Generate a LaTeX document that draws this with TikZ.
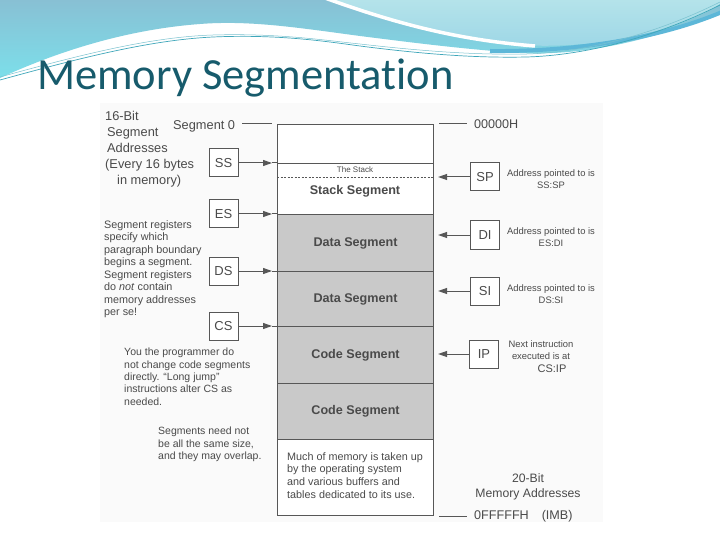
\documentclass[tikz,border=0pt]{standalone}
\usepackage{fontspec}
\setmainfont{Liberation Sans}
\newfontfamily\titlefont[Ligatures={NoCommon}]{Carlito}
\usetikzlibrary{arrows.meta}
\definecolor{ink}{HTML}{4A4A4A}
\definecolor{edge}{HTML}{575757}
\definecolor{segfill}{HTML}{C9C9C9}
\definecolor{titlecol}{HTML}{175B6C}
\definecolor{bluetop}{HTML}{88C0D4}
\definecolor{bluelow}{HTML}{7CDFEA}
\definecolor{cyantop}{HTML}{B4E3EA}
\definecolor{cyanlow}{HTML}{9CD6E6}
\definecolor{bandblue}{HTML}{5DB7D8}
\definecolor{thinline}{HTML}{3FA7BA}
\definecolor{panel}{HTML}{FAFAFA}
\tikzset{
  seg/.style={draw=edge, line width=1.1pt, minimum width=156pt, inner sep=0pt, anchor=north west,
    font=\bfseries\fontsize{12.6}{14}\selectfont, text=ink},
  reg/.style={draw=edge, line width=1pt, minimum width=29pt, minimum height=28pt, inner sep=0pt,
    font=\fontsize{13}{14}\selectfont, text=ink, fill=white},
  note/.style={inner sep=0pt, text=ink},
  arr/.style={draw=edge, line width=1pt, -{Triangle[length=9pt,width=6pt]}},
  tick/.style={draw=edge, line width=1pt}
}
\begin{document}
\begin{tikzpicture}[x=1pt,y=-1pt]
\useasboundingbox (0,0) rectangle (720,540);
\fill[white] (0,0) rectangle (720,540);
% top decoration
\shade[top color=bluetop, bottom color=bluelow]
  (0,0) -- (720,0) -- (720,12) .. controls (650,42) and (580,56) .. (520,53)
  .. controls (460,49) and (400,41) .. (360,36) .. controls (300,28) and (250,20) .. (200,24)
  .. controls (120,30) and (50,55) .. (0,78) -- cycle;
\shade[top color=cyantop, bottom color=cyanlow]
  (330,0) .. controls (400,25) and (460,40) .. (520,45) .. controls (600,50) and (680,30) .. (720,4) -- (720,0) -- cycle;
\draw[white, line width=3.5pt] (325,-2) .. controls (400,25) and (460,40) .. (535,46);
\draw[bandblue, line width=4pt] (490,51) .. controls (590,52) and (670,34) .. (722,12);
\draw[thinline, line width=0.7pt] (0,80) .. controls (80,58) and (150,40) .. (213,37)
  .. controls (280,34) and (330,42) .. (360,46) .. controls (430,55) and (480,58) .. (527,57)
  .. controls (590,55) and (660,35) .. (720,5);
\draw[thinline!70, line width=0.5pt] (0,77) .. controls (80,55) and (150,37) .. (213,35)
  .. controls (280,33) and (330,41) .. (360,44) .. controls (430,52) and (480,55) .. (527,54)
  .. controls (590,52) and (660,32) .. (720,2);
% title
\node[anchor=base west, inner sep=0pt, font=\titlefont\fontsize{44.5}{44}\selectfont, text=titlecol] (title) at (37,90) {Memory Segmentation};
% panel
\fill[panel] (100,103) rectangle (603,522);
% memory column
\node[seg, minimum height=39pt, fill=white] (top) at (277,124) {};
\node[seg, minimum height=51pt, fill=white] (stack) at (277,163) {};
\node[seg, minimum height=57pt, fill=segfill] (data1) at (277,214) {Data Segment};
\node[seg, minimum height=55pt, fill=segfill] (data2) at (277,271) {Data Segment};
\node[seg, minimum height=57pt, fill=segfill] (code1) at (277,326) {Code Segment};
\node[seg, minimum height=56pt, fill=segfill] (code2) at (277,383) {Code Segment};
\node[seg, minimum height=76pt, fill=white] (os) at (277,439) {};
\draw[edge, line width=0.8pt, dash pattern=on 2pt off 1.5pt] ([yshift=-14pt]stack.north west) -- ([yshift=-14pt]stack.north east);
\node[note, font=\fontsize{8}{9}\selectfont] (thestack) at (355,170) {The Stack};
\node[note, font=\bfseries\fontsize{12.6}{14}\selectfont] (stacklbl) at (355,191) {Stack Segment};
\node[note, anchor=north west, align=left, font=\fontsize{10.8}{12.7}\selectfont] (osnote) at (287,452)
  {Much of memory is taken up\\by the operating system\\and various buffers and\\tables dedicated to its use.};
% address marks
\node[note, anchor=base west, font=\fontsize{12.8}{14}\selectfont] (seg0) at (173,129.5) {Segment 0};
\draw[tick] ([xshift=7pt]seg0.east |- top.north west) -- ([xshift=-5pt]top.north west);
\node[note, anchor=base west, font=\fontsize{12.6}{14}\selectfont] (addr0) at (474,129) {00000H};
\draw[tick] ([xshift=5pt]top.north east) -- ([xshift=-7pt]addr0.west |- top.north east);
\node[note, anchor=base west, font=\fontsize{12.6}{14}\selectfont] (addrF) at (474,519.5) {0FFFFFH\hspace{13pt}(IMB)};
\draw[tick] ([xshift=5pt]os.south east) -- ([xshift=-7pt]addrF.west |- os.south east);
\node[note, align=center, font=\fontsize{12.2}{14.5}\selectfont] (bits20) at (528,487) {20-Bit\\Memory Addresses};
% left registers
\node[reg] (SS) at (223.5,163) {SS};
\node[reg] (ES) at (223.5,214) {ES};
\node[reg] (DS) at (223.5,271) {DS};
\node[reg] (CS) at (223.5,326) {CS};
\foreach \r/\s in {SS/stack, ES/data1, DS/data2, CS/code1} {
  \draw[arr] (\r.east) -- ([xshift=-5pt]\s.north west);
  \draw[tick] ([xshift=-5pt]\s.north west) -- (\s.north west);
}
% right registers
\node[reg] (SP) at (485,177) {SP};
\node[reg] (DI) at (485,235) {DI};
\node[reg] (SI) at (485,291) {SI};
\node[reg] (IP) at (484,354) {IP};
\draw[arr, shorten >=4pt] (SP.west) -- (SP.west -| stack.east);
\draw[arr, shorten >=4pt] (DI.west) -- (DI.west -| data1.east);
\draw[arr, shorten >=4pt] (SI.west) -- (SI.west -| data2.east);
\draw[arr, shorten >=4pt] (IP.west) -- (IP.west -| code1.east);
\node[note, align=center, font=\fontsize{9.4}{12}\selectfont] (spnote) at (551,179.5) {Address pointed to is\\SS:SP};
\node[note, align=center, font=\fontsize{9.4}{12}\selectfont] (dinote) at (551,237.5) {Address pointed to is\\ES:DI};
\node[note, align=center, font=\fontsize{9.4}{12}\selectfont] (sinote) at (551,294) {Address pointed to is\\DS:SI};
\node[note, align=center, font=\fontsize{9.4}{12}\selectfont] (ipnote) at (541,350) {Next instruction\\executed is at};
\node[note, font=\fontsize{11}{12}\selectfont] (csip) at (552,369) {CS:IP};
% left notes
\node[note, anchor=north west, align=left, font=\fontsize{12.8}{16}\selectfont] (segaddr) at (105,111)
  {16-Bit\\\hspace*{2pt}Segment\\\hspace*{2pt}Addresses\\(Every 16 bytes\\\hspace*{12pt}in memory)};
\node[note, anchor=north west, align=left, font=\fontsize{10.8}{12.5}\selectfont] (segreg) at (104,220)
  {Segment registers\\specify which\\paragraph boundary\\begins a segment.\\Segment registers\\do \textit{not} contain\\memory addresses\\per se!};
\node[note, anchor=north west, align=left, font=\fontsize{10.5}{12.3}\selectfont] (progr) at (124,348)
  {You the programmer do\\not change code segments\\directly. \textquotedblleft Long jump\textquotedblright\\instructions alter CS as\\needed.};
\node[note, anchor=north west, align=left, font=\fontsize{10.5}{12.5}\selectfont] (sizes) at (158,427)
  {Segments need not\\be all the same size,\\and they may overlap.};
\end{tikzpicture}
\end{document}
